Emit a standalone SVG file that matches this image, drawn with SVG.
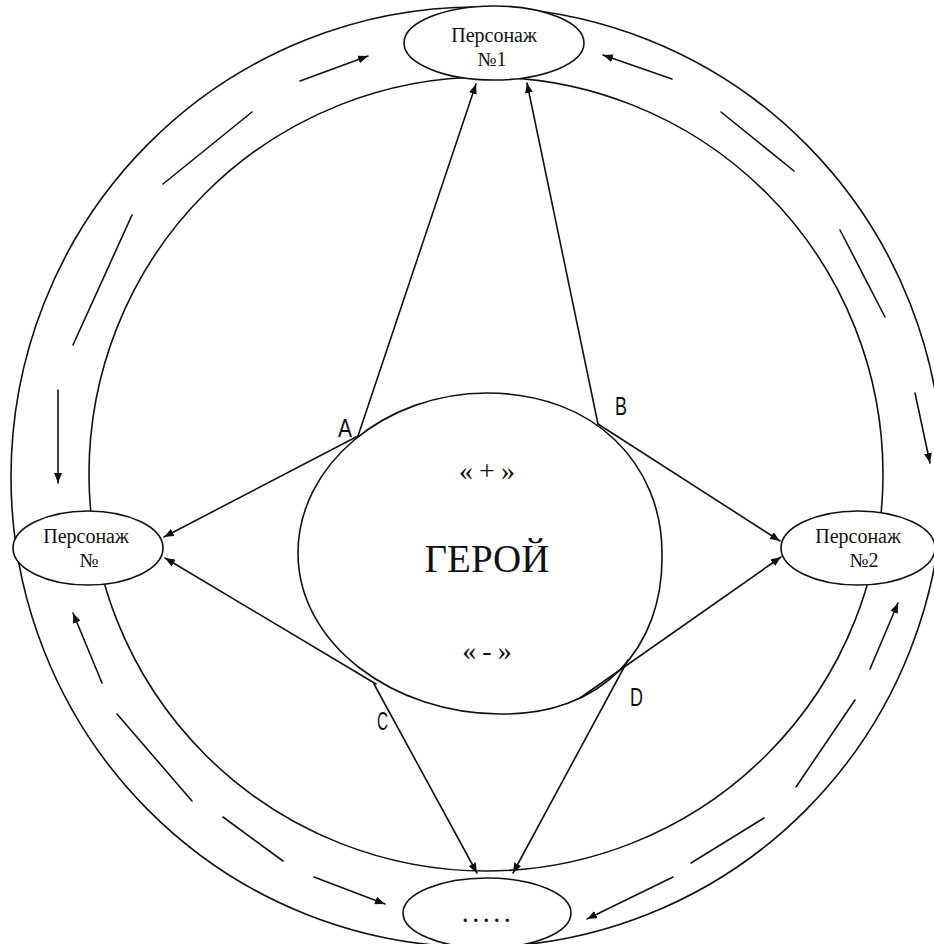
<svg xmlns="http://www.w3.org/2000/svg" width="934" height="944" viewBox="0 0 934 944">
<defs>
<style>
.ln{fill:none;stroke:#111;stroke-width:1.6;stroke-linecap:round}
.nd{fill:#fff;stroke:#111;stroke-width:1.6}
.tx{font-family:"Liberation Serif","Times New Roman",serif;fill:#111;text-anchor:middle}
.lb{font-family:"Liberation Sans",Arial,sans-serif;fill:#111;font-size:25px}
</style>
<marker id="ah" viewBox="0 0 10 8" refX="10" refY="4" markerWidth="10" markerHeight="8" markerUnits="userSpaceOnUse" orient="auto">
<path d="M0,0 L10,4 L0,8 Z" fill="#111"/>
</marker>
</defs>
<rect width="934" height="944" fill="#fff"/>
<g id="ring">
<ellipse class="ln" cx="477" cy="477" rx="466" ry="470"/>
<ellipse class="ln" cx="486" cy="474" rx="397" ry="397"/>
</g>
<g id="connectors">
<line class="ln" x1="358" y1="436" x2="476" y2="84" marker-end="url(#ah)"/>
<line class="ln" x1="598" y1="424" x2="527" y2="83" marker-end="url(#ah)"/>
<line class="ln" x1="358" y1="436" x2="164" y2="537" marker-end="url(#ah)"/>
<line class="ln" x1="376" y1="684" x2="165" y2="558" marker-end="url(#ah)"/>
<line class="ln" x1="598" y1="424" x2="780" y2="541" marker-end="url(#ah)"/>
<line class="ln" x1="580" y1="698" x2="781" y2="557" marker-end="url(#ah)"/>
<line class="ln" x1="374" y1="684" x2="477" y2="873" marker-end="url(#ah)"/>
<line class="ln" x1="628" y1="660" x2="513" y2="873" marker-end="url(#ah)"/>
<line class="ln" x1="300" y1="81" x2="368" y2="56" marker-end="url(#ah)"/>
<line class="ln" x1="163" y1="184" x2="252" y2="112"/>
<line class="ln" x1="73" y1="345" x2="132" y2="215"/>
<line class="ln" x1="58" y1="390" x2="58" y2="483" marker-end="url(#ah)"/>
<line class="ln" x1="102" y1="683" x2="73" y2="613" marker-end="url(#ah)"/>
<line class="ln" x1="117" y1="714" x2="192" y2="801"/>
<line class="ln" x1="223" y1="817" x2="283" y2="861"/>
<line class="ln" x1="314" y1="877" x2="385" y2="904" marker-end="url(#ah)"/>
<line class="ln" x1="673" y1="877" x2="587" y2="919" marker-end="url(#ah)"/>
<line class="ln" x1="691" y1="863" x2="764" y2="818"/>
<line class="ln" x1="796" y1="787" x2="855" y2="700"/>
<line class="ln" x1="870" y1="669" x2="898" y2="603" marker-end="url(#ah)"/>
<line class="ln" x1="915" y1="393" x2="930" y2="463" marker-end="url(#ah)"/>
<line class="ln" x1="840" y1="230" x2="885" y2="317"/>
<line class="ln" x1="721" y1="112" x2="794" y2="171"/>
<line class="ln" x1="672" y1="79" x2="603" y2="55" marker-end="url(#ah)"/>
</g>
<g id="node-1">
<ellipse class="nd" cx="494" cy="43" rx="90" ry="37"/>
<text class="tx" x="494" y="42" font-size="20">Персонаж</text>
<text class="tx" x="492" y="66" font-size="20">№1</text>
</g>
<g id="node-left">
<ellipse class="nd" cx="88" cy="548" rx="75" ry="37"/>
<text class="tx" x="86" y="543" font-size="20">Персонаж</text>
<text class="tx" x="89" y="567" font-size="20">№</text>
</g>
<g id="node-2">
<ellipse class="nd" cx="858" cy="548" rx="77" ry="37"/>
<text class="tx" x="858" y="543" font-size="20">Персонаж</text>
<text class="tx" x="864" y="567" font-size="20">№2</text>
</g>
<g id="node-bottom">
<ellipse class="nd" cx="487" cy="913" rx="84" ry="35"/>
<text class="tx" x="489" y="922" font-size="20" letter-spacing="5.5" font-weight="bold">.....</text>
</g>
<g id="hero">
<path class="ln" d="M487,393 C595,393 662,465 662,553 C664,650 600,716 500,714 C395,714 298,645 298,553 C298,465 385,393 487,393 Z"/>
<text class="tx" x="490" y="480" font-size="28" letter-spacing="6">«+»</text>
<text class="tx" x="487" y="572" font-size="39">ГЕРОЙ</text>
<text class="tx" x="490" y="660" font-size="28" letter-spacing="6">«-»</text>
</g>
<g id="labels">
<text class="lb" x="338" y="437" textLength="14" lengthAdjust="spacingAndGlyphs">A</text>
<text class="lb" x="615" y="415" textLength="12" lengthAdjust="spacingAndGlyphs">B</text>
<text class="lb" x="377" y="730" textLength="11" lengthAdjust="spacingAndGlyphs">C</text>
<text class="lb" x="630" y="706" textLength="13" lengthAdjust="spacingAndGlyphs">D</text>
</g>
</svg>
